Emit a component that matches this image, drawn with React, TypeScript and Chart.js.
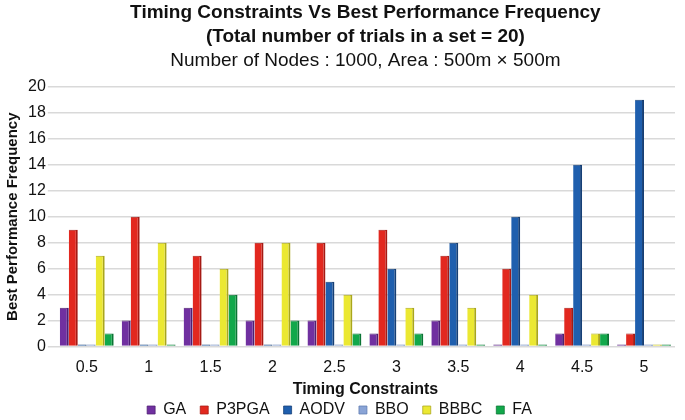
import React, { useEffect, useRef } from "react";
import { Chart, registerables } from "chart.js";

Chart.register(...registerables);

const categories = ["0.5", "1", "1.5", "2", "2.5", "3", "3.5", "4", "4.5", "5"];
const gaValues = [3, 2, 3, 2, 2, 1, 2, 0, 1, 0];
const p3pgaValues = [9, 10, 7, 8, 8, 9, 7, 6, 3, 1];
const aodvValues = [0, 0, 0, 0, 5, 6, 8, 10, 14, 19];
const bboValues = [0, 0, 0, 0, 0, 0, 0, 0, 0, 0];
const bbbcValues = [7, 8, 6, 8, 4, 3, 3, 4, 1, 0];
const faValues = [1, 0, 4, 2, 1, 1, 0, 0, 1, 0];

const titleLines = [
  "Timing Constraints Vs Best Performance Frequency",
  "(Total number of trials in a set = 20)",
];
const subtitleText = "Number of Nodes : 1000, Area : 500m \u00d7 500m";
const xTitle = "Timing Constraints";
const yTitle = "Best Performance Frequency";

const FONT = "'Liberation Sans', Arial, Helvetica, sans-serif";

const series = [
  { label: "GA", data: gaValues, color: "#7030a0", side: "#4d1f72" },
  { label: "P3PGA", data: p3pgaValues, color: "#e2281f", side: "#a51a14" },
  { label: "AODV", data: aodvValues, color: "#1f5fae", side: "#163f75" },
  { label: "BBO", data: bboValues, color: "#8aa4d6", side: "#5f7bb0" },
  { label: "BBBC", data: bbbcValues, color: "#ebe832", side: "#a9a61c" },
  { label: "FA", data: faValues, color: "#12a84b", side: "#0b7434" },
];

export default function App() {
  const ref = useRef<HTMLCanvasElement | null>(null);

  useEffect(() => {
    if (!ref.current) return;
    const chart = new Chart(ref.current, {
      type: "bar",
      data: {
        labels: categories,
        datasets: series.map((s) => ({
          label: s.label,
          data: s.data,
          backgroundColor: s.color,
          borderColor: s.side,
          borderWidth: { right: 2, top: 1, left: 0, bottom: 0 },
          borderSkipped: false,
          minBarLength: 2,
          categoryPercentage: 0.87,
          barPercentage: 1.0,
        })),
      },
      options: {
        animation: false,
        responsive: false,
        maintainAspectRatio: false,
        layout: { padding: { left: 4, right: 10, top: 0, bottom: -8 } },
        plugins: {
          title: {
            display: true,
            text: titleLines,
            fullSize: false,
            color: "#111",
            font: { family: FONT, size: 19, weight: "bold", lineHeight: 1.263 },
            padding: { top: 1, bottom: 0 },
          },
          subtitle: {
            display: true,
            text: subtitleText,
            fullSize: false,
            color: "#111",
            font: { family: FONT, size: 19, weight: "normal", lineHeight: 1.2 },
            padding: { top: 0, bottom: 15 },
          },
          legend: {
            position: "bottom",
            labels: {
              color: "#111",
              font: { family: FONT, size: 16 },
              boxWidth: 8,
              boxHeight: 8,
              padding: 14,
            },
          },
          tooltip: { enabled: false },
        },
        scales: {
          x: {
            grid: { display: false, drawTicks: false },
            border: { display: false },
            ticks: {
              color: "#111",
              font: { family: FONT, size: 16 },
              padding: 11,
            },
            title: {
              display: true,
              text: xTitle,
              color: "#111",
              font: { family: FONT, size: 16, weight: "bold" },
              padding: { top: -8, bottom: -11 },
            },
          },
          y: {
            min: 0,
            max: 20,
            ticks: {
              stepSize: 2,
              color: "#111",
              font: { family: FONT, size: 16 },
              padding: 2,
            },
            grid: { color: "#d9d9d9", lineWidth: 1.5, tickLength: 8 },
            border: { display: false },
            title: {
              display: true,
              text: yTitle,
              color: "#111",
              font: { family: FONT, size: 15, weight: "bold" },
              padding: { top: 0, bottom: 4 },
            },
          },
        },
      },
    });
    return () => chart.destroy();
  }, []);

  return (
    <div style={{ position: "absolute", left: 0, top: 0, width: 685, height: 420, background: "#fff" }}>
      <canvas ref={ref} width={685} height={420} style={{ width: 685, height: 420, display: "block" }} />
    </div>
  );
}
